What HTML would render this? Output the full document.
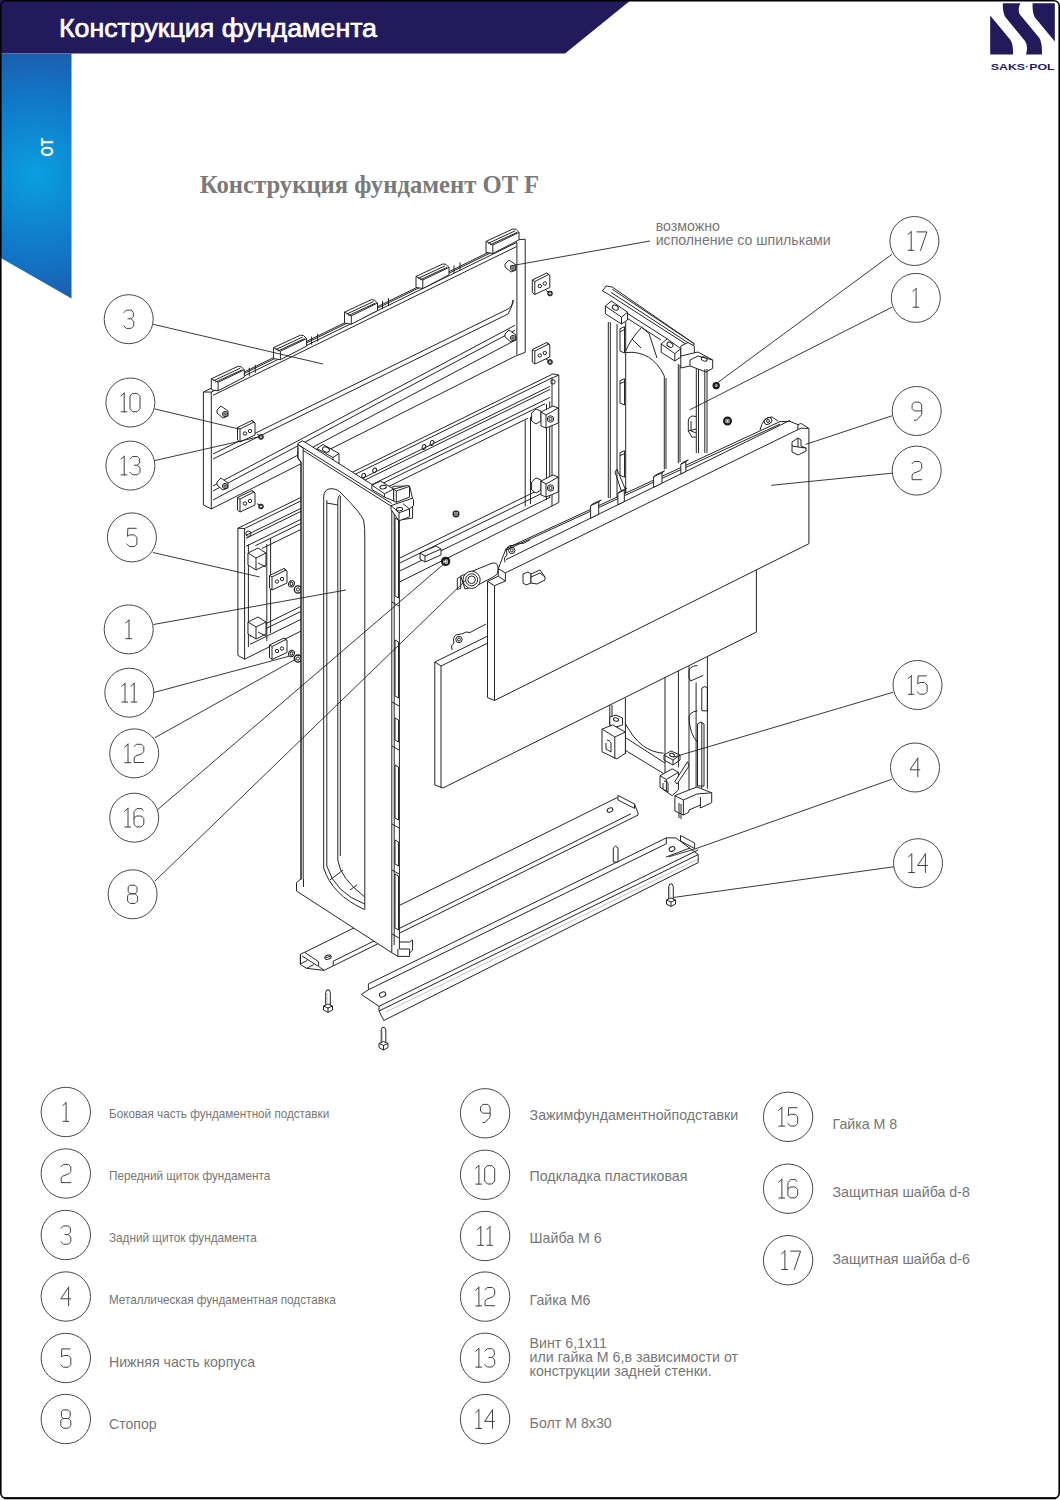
<!DOCTYPE html>
<html><head><meta charset="utf-8">
<style>
html,body{margin:0;padding:0;background:#fff;}
body{width:1060px;height:1500px;position:relative;overflow:hidden;}
svg{position:absolute;left:0;top:0;}
</style></head><body>
<svg width="1060" height="1500" viewBox="0 0 1060 1500">
<defs>
<radialGradient id="sb" cx="36" cy="175" r="150" gradientUnits="userSpaceOnUse" >
<stop offset="0" stop-color="#0a9fe0"/>
<stop offset="0.55" stop-color="#1275c6"/>
<stop offset="1" stop-color="#2350a0"/>
</radialGradient>
</defs>
<rect x="0" y="0" width="1060" height="1500" fill="#fff"/>
<polygon points="0,0 631,0 565,53.5 0,53.5" fill="#231a5c"/>
<polygon points="0,53.5 71.5,53.5 71.5,298.5 0,257.5" fill="url(#sb)"/>
<text x="59" y="37" font-family="Liberation Sans" font-size="25.4" fill="#fff" stroke="#fff" stroke-width="0.7" textLength="318" lengthAdjust="spacingAndGlyphs">Конструкция фундамента</text>
<text transform="translate(52.8,156.5) rotate(-90)" font-family="Liberation Sans" font-weight="bold" font-size="17.4" fill="#fff" textLength="18.5" lengthAdjust="spacingAndGlyphs">ОТ</text>
<g fill="#231a5c">
<path d="M990.2,15.6 L990.2,54.5 L1013,54.5 Q1013.5,45 1010.5,40 Z"/>
<path d="M1002.9,3.3 L1020.4,3.3 Q1017.5,8 1019.5,14 L1039.2,37.7 Q1042.2,42 1042,54.5 L1026,54.5 Q1028.5,46 1025,41 L1005.3,17 Q1002.5,12 1002.9,3.3 Z"/>
<path d="M1032.6,3.3 L1054.8,3.3 L1054.8,41.5 L1034.5,17 Q1032.2,12 1032.6,3.3 Z"/>
</g>
<text x="990.7" y="69.8" font-family="Liberation Sans" font-weight="bold" font-size="9.8" fill="#231a5c" textLength="64" lengthAdjust="spacingAndGlyphs">SAKS·POL</text>
<text x="199.8" y="193.2" font-family="Liberation Serif" font-weight="bold" font-size="24.7" fill="#7a7a7a" textLength="339.2" lengthAdjust="spacingAndGlyphs">Конструкция фундамент OT F</text>
<circle cx="65.8" cy="1112" r="24.7" fill="none" stroke="#484848" stroke-width="1"/><g transform="translate(65.8,1112) scale(1.0)" fill="none" stroke="#404040" stroke-width="1.0" stroke-linecap="round" stroke-linejoin="round"><path transform="translate(-3.10,-9.3)" d="M3.4,0 L3.4,18.6 M0.3,18.6 L6.1,18.6 M3.4,0 L0.2,2.8"/></g><circle cx="65.8" cy="1173.5" r="24.7" fill="none" stroke="#484848" stroke-width="1"/><g transform="translate(65.8,1173.5) scale(1.0)" fill="none" stroke="#404040" stroke-width="1.0" stroke-linecap="round" stroke-linejoin="round"><path transform="translate(-5.00,-9.3)" d="M0.4,2.4 L2.5,0.2 L7.7,0.2 L10,2.5 L10,7.3 L8.1,9.6 L1.9,11.9 L0.4,13.8 L0.4,18.4 L10,18.4"/></g><circle cx="65.8" cy="1235" r="24.7" fill="none" stroke="#484848" stroke-width="1"/><g transform="translate(65.8,1235) scale(1.0)" fill="none" stroke="#404040" stroke-width="1.0" stroke-linecap="round" stroke-linejoin="round"><path transform="translate(-5.00,-9.3)" d="M0.3,2.6 L2.6,0.2 L7.5,0.2 L9.6,2.4 L9.6,6.6 L7.4,8.9 L4.2,8.9 M7.4,8.9 L10,11.5 L10,16 L7.5,18.5 L2.6,18.5 L0.1,16"/></g><circle cx="65.8" cy="1296.5" r="24.7" fill="none" stroke="#484848" stroke-width="1"/><g transform="translate(65.8,1296.5) scale(1.0)" fill="none" stroke="#404040" stroke-width="1.0" stroke-linecap="round" stroke-linejoin="round"><path transform="translate(-5.00,-9.3)" d="M7.8,0 L0,11.6 L9.8,11.6 M7.8,0 L7.8,18.6"/></g><circle cx="65.8" cy="1358" r="24.7" fill="none" stroke="#484848" stroke-width="1"/><g transform="translate(65.8,1358) scale(1.0)" fill="none" stroke="#404040" stroke-width="1.0" stroke-linecap="round" stroke-linejoin="round"><path transform="translate(-5.00,-9.3)" d="M9.4,0.2 L1,0.2 L0.6,8.2 L2.8,6.8 L7.5,6.8 L10,9.3 L10,16 L7.5,18.5 L2.6,18.5 L0,16"/></g><circle cx="65.8" cy="1419" r="24.7" fill="none" stroke="#484848" stroke-width="1"/><g transform="translate(65.8,1419) scale(1.0)" fill="none" stroke="#404040" stroke-width="1.0" stroke-linecap="round" stroke-linejoin="round"><path transform="translate(-5.00,-9.3)" d="M2.7,0.2 L7.3,0.2 L9.4,2.3 L9.4,6.6 L7.6,8.8 L2.4,8.8 L0.6,6.6 L0.6,2.3 Z M2.4,8.8 L7.6,8.8 L10,11.2 L10,16 L7.5,18.5 L2.5,18.5 L0,16 L0,11.2 Z"/></g><circle cx="485.1" cy="1113.3" r="24.7" fill="none" stroke="#484848" stroke-width="1"/><g transform="translate(485.1,1113.3) scale(1.0)" fill="none" stroke="#404040" stroke-width="1.0" stroke-linecap="round" stroke-linejoin="round"><path transform="translate(-5.00,-9.3)" d="M10,9.2 L2.7,9.2 L0.4,6.9 L0.4,3.1 L2.7,0.4 L7.7,0.4 L10,3.1 L10,13 L5,18.4 L2.7,18.6"/></g><circle cx="485.1" cy="1174.8" r="24.7" fill="none" stroke="#484848" stroke-width="1"/><g transform="translate(485.1,1174.8) scale(1.0)" fill="none" stroke="#404040" stroke-width="1.0" stroke-linecap="round" stroke-linejoin="round"><path transform="translate(-9.60,-9.3)" d="M3.4,0 L3.4,18.6 M0.3,18.6 L6.1,18.6 M3.4,0 L0.2,2.8"/><path transform="translate(-0.40,-9.3)" d="M2.8,0.2 L7.2,0.2 L10,3.2 L10,15.6 L7.2,18.5 L2.8,18.5 L0,15.6 L0,3.2 Z"/></g><circle cx="485.1" cy="1236" r="24.7" fill="none" stroke="#484848" stroke-width="1"/><g transform="translate(485.1,1236) scale(1.0)" fill="none" stroke="#404040" stroke-width="1.0" stroke-linecap="round" stroke-linejoin="round"><path transform="translate(-7.70,-9.3)" d="M3.4,0 L3.4,18.6 M0.3,18.6 L6.1,18.6 M3.4,0 L0.2,2.8"/><path transform="translate(1.50,-9.3)" d="M3.4,0 L3.4,18.6 M0.3,18.6 L6.1,18.6 M3.4,0 L0.2,2.8"/></g><circle cx="485.1" cy="1296.6" r="24.7" fill="none" stroke="#484848" stroke-width="1"/><g transform="translate(485.1,1296.6) scale(1.0)" fill="none" stroke="#404040" stroke-width="1.0" stroke-linecap="round" stroke-linejoin="round"><path transform="translate(-9.60,-9.3)" d="M3.4,0 L3.4,18.6 M0.3,18.6 L6.1,18.6 M3.4,0 L0.2,2.8"/><path transform="translate(-0.40,-9.3)" d="M0.4,2.4 L2.5,0.2 L7.7,0.2 L10,2.5 L10,7.3 L8.1,9.6 L1.9,11.9 L0.4,13.8 L0.4,18.4 L10,18.4"/></g><circle cx="485.1" cy="1357.8" r="24.7" fill="none" stroke="#484848" stroke-width="1"/><g transform="translate(485.1,1357.8) scale(1.0)" fill="none" stroke="#404040" stroke-width="1.0" stroke-linecap="round" stroke-linejoin="round"><path transform="translate(-9.60,-9.3)" d="M3.4,0 L3.4,18.6 M0.3,18.6 L6.1,18.6 M3.4,0 L0.2,2.8"/><path transform="translate(-0.40,-9.3)" d="M0.3,2.6 L2.6,0.2 L7.5,0.2 L9.6,2.4 L9.6,6.6 L7.4,8.9 L4.2,8.9 M7.4,8.9 L10,11.5 L10,16 L7.5,18.5 L2.6,18.5 L0.1,16"/></g><circle cx="485.1" cy="1419.1" r="24.7" fill="none" stroke="#484848" stroke-width="1"/><g transform="translate(485.1,1419.1) scale(1.0)" fill="none" stroke="#404040" stroke-width="1.0" stroke-linecap="round" stroke-linejoin="round"><path transform="translate(-9.60,-9.3)" d="M3.4,0 L3.4,18.6 M0.3,18.6 L6.1,18.6 M3.4,0 L0.2,2.8"/><path transform="translate(-0.40,-9.3)" d="M7.8,0 L0,11.6 L9.8,11.6 M7.8,0 L7.8,18.6"/></g><circle cx="788.1" cy="1116.8" r="24.7" fill="none" stroke="#484848" stroke-width="1"/><g transform="translate(788.1,1116.8) scale(1.0)" fill="none" stroke="#404040" stroke-width="1.0" stroke-linecap="round" stroke-linejoin="round"><path transform="translate(-9.60,-9.3)" d="M3.4,0 L3.4,18.6 M0.3,18.6 L6.1,18.6 M3.4,0 L0.2,2.8"/><path transform="translate(-0.40,-9.3)" d="M9.4,0.2 L1,0.2 L0.6,8.2 L2.8,6.8 L7.5,6.8 L10,9.3 L10,16 L7.5,18.5 L2.6,18.5 L0,16"/></g><circle cx="788.1" cy="1188.7" r="24.7" fill="none" stroke="#484848" stroke-width="1"/><g transform="translate(788.1,1188.7) scale(1.0)" fill="none" stroke="#404040" stroke-width="1.0" stroke-linecap="round" stroke-linejoin="round"><path transform="translate(-9.60,-9.3)" d="M3.4,0 L3.4,18.6 M0.3,18.6 L6.1,18.6 M3.4,0 L0.2,2.8"/><path transform="translate(-0.40,-9.3)" d="M9.2,1.9 L7.9,0.2 L3,0.2 L0.2,3.2 L0.2,15.8 L2.7,18.5 L7.5,18.5 L10,15.8 L10,10.2 L7.5,7.6 L2.5,7.6 L0.2,10"/></g><circle cx="788.1" cy="1260.2" r="24.7" fill="none" stroke="#484848" stroke-width="1"/><g transform="translate(788.1,1260.2) scale(1.0)" fill="none" stroke="#404040" stroke-width="1.0" stroke-linecap="round" stroke-linejoin="round"><path transform="translate(-6.60,-9.3)" d="M3.4,0 L3.4,18.6 M0.3,18.6 L6.1,18.6 M3.4,0 L0.2,2.8"/><path transform="translate(2.60,-9.3)" d="M0,0.2 L9.9,0.2 L3.6,18.6"/></g>
<g font-family="Liberation Sans" fill="#767676"><text x="109" y="1118.1" font-size="13"  textLength="220.2" lengthAdjust="spacingAndGlyphs">Боковая часть фундаментной подставки</text><text x="109" y="1180" font-size="13"  textLength="161.3" lengthAdjust="spacingAndGlyphs">Передний щиток фундамента</text><text x="109" y="1242.4" font-size="13"  textLength="147.9" lengthAdjust="spacingAndGlyphs">Задний щиток фундамента</text><text x="109" y="1304.4" font-size="13"  textLength="226.8" lengthAdjust="spacingAndGlyphs">Металлическая фундаментная подставка</text><text x="109" y="1366.7" font-size="14.2"  textLength="146.2" lengthAdjust="spacingAndGlyphs">Нижняя часть корпуса</text><text x="109" y="1428.7" font-size="14.2"  textLength="47.6" lengthAdjust="spacingAndGlyphs">Стопор</text><text x="529.6" y="1119.5" font-size="14.2"  textLength="208.5" lengthAdjust="spacingAndGlyphs">Зажимфундаментнойподставки</text><text x="529.6" y="1181" font-size="14.2" >Подкладка пластиковая</text><text x="529.6" y="1243" font-size="14.2" >Шайба М 6</text><text x="529.6" y="1304.5" font-size="14.2" >Гайка М6</text><text x="529.6" y="1348.3" font-size="14.2" >Винт 6,1x11</text><text x="529.6" y="1362.4" font-size="14.2"  textLength="208.5" lengthAdjust="spacingAndGlyphs">или гайка М 6,в зависимости от</text><text x="529.6" y="1376.4" font-size="14.2" >конструкции задней стенки.</text><text x="529.6" y="1428.2" font-size="14.2" >Болт М 8x30</text><text x="832.5" y="1129" font-size="14.2" >Гайка М 8</text><text x="832.5" y="1197.2" font-size="14.2"  textLength="137.3" lengthAdjust="spacingAndGlyphs">Защитная шайба d-8</text><text x="832.5" y="1264.4" font-size="14.2"  textLength="137.3" lengthAdjust="spacingAndGlyphs">Защитная шайба d-6</text><text x="655.7" y="230.8" font-size="14.2" >возможно</text><text x="655.7" y="245.3" font-size="14.2"  textLength="175" lengthAdjust="spacingAndGlyphs">исполнение со шпильками</text></g>
<polygon points="203.4,392.0 513.4,240.1 525.2,239.2 525.2,352.4 515.8,355.9 211.3,508.9 203.4,505.0" fill="#fff" stroke="#1a1a1a" stroke-width="0.95" stroke-linejoin="round"/>
<polyline points="211.3,392.1 211.3,508.9" fill="none" stroke="#1a1a1a" stroke-width="0.95" stroke-linejoin="round"/>
<polyline points="203.4,392.0 211.3,392.1" fill="none" stroke="#1a1a1a" stroke-width="0.95" stroke-linejoin="round"/>
<polyline points="211.3,392.1 516.9,242.4" fill="none" stroke="#1a1a1a" stroke-width="0.95" stroke-linejoin="round"/>
<polyline points="213.0,395.3 516.9,246.4" fill="none" stroke="#1a1a1a" stroke-width="0.95" stroke-linejoin="round"/>
<polyline points="516.9,242.4 516.9,354.7" fill="none" stroke="#1a1a1a" stroke-width="0.95" stroke-linejoin="round"/>
<polyline points="513.4,240.1 516.9,242.4" fill="none" stroke="#1a1a1a" stroke-width="0.95" stroke-linejoin="round"/>
<polyline points="218.0,386.3 513.0,241.8" fill="none" stroke="#1a1a1a" stroke-width="0.95" stroke-linejoin="round"/>
<path d="M213,454 L508,309 Q514,305 513,300 Q512,308 508,314 L213,459" fill="none" stroke="#1a1a1a" stroke-width="0.95"/>
<polyline points="213.0,486.0 515.0,325.3" fill="none" stroke="#1a1a1a" stroke-width="0.95" stroke-linejoin="round"/>
<polyline points="213.0,491.0 515.0,330.3" fill="none" stroke="#1a1a1a" stroke-width="0.95" stroke-linejoin="round"/>
<polyline points="213.0,500.0 515.8,339.9" fill="none" stroke="#1a1a1a" stroke-width="0.95" stroke-linejoin="round"/>
<polygon points="211.3,378.8 238.3,366.2 241.3,366.8 244.3,369.8 244.3,377.2 218.1,390.8 211.3,389.8" fill="#fff" stroke="#1a1a1a" stroke-width="0.95" stroke-linejoin="round"/>
<polyline points="211.3,378.8 218.1,382.3 218.1,390.8" fill="none" stroke="#1a1a1a" stroke-width="0.95" stroke-linejoin="round"/>
<polyline points="218.1,382.3 244.3,369.8" fill="none" stroke="#1a1a1a" stroke-width="0.95" stroke-linejoin="round"/>
<polyline points="213.3,380.8 240.3,368.2" fill="none" stroke="#1a1a1a" stroke-width="0.95" stroke-linejoin="round"/>
<polyline points="215.3,382.2 242.3,369.8" fill="none" stroke="#1a1a1a" stroke-width="0.95" stroke-linejoin="round"/>
<polyline points="249.3,367.8 249.3,375.8" fill="none" stroke="#1a1a1a" stroke-width="0.95" stroke-linejoin="round"/>
<polyline points="255.3,364.8 255.3,372.8" fill="none" stroke="#1a1a1a" stroke-width="0.95" stroke-linejoin="round"/>
<polygon points="273.6,347.6 300.6,335.1 303.6,335.6 306.6,338.6 306.6,346.1 280.4,359.7 273.6,358.6" fill="#fff" stroke="#1a1a1a" stroke-width="0.95" stroke-linejoin="round"/>
<polyline points="273.6,347.6 280.4,351.2 280.4,359.7" fill="none" stroke="#1a1a1a" stroke-width="0.95" stroke-linejoin="round"/>
<polyline points="280.4,351.2 306.6,338.6" fill="none" stroke="#1a1a1a" stroke-width="0.95" stroke-linejoin="round"/>
<polyline points="275.6,349.6 302.6,337.1" fill="none" stroke="#1a1a1a" stroke-width="0.95" stroke-linejoin="round"/>
<polyline points="277.6,351.1 304.6,338.6" fill="none" stroke="#1a1a1a" stroke-width="0.95" stroke-linejoin="round"/>
<polyline points="311.6,336.6 311.6,344.6" fill="none" stroke="#1a1a1a" stroke-width="0.95" stroke-linejoin="round"/>
<polyline points="317.6,333.6 317.6,341.6" fill="none" stroke="#1a1a1a" stroke-width="0.95" stroke-linejoin="round"/>
<polygon points="344.5,312.1 371.5,299.6 374.5,300.1 377.5,303.1 377.5,310.6 351.3,324.2 344.5,323.1" fill="#fff" stroke="#1a1a1a" stroke-width="0.95" stroke-linejoin="round"/>
<polyline points="344.5,312.1 351.3,315.8 351.3,324.2" fill="none" stroke="#1a1a1a" stroke-width="0.95" stroke-linejoin="round"/>
<polyline points="351.3,315.8 377.5,303.1" fill="none" stroke="#1a1a1a" stroke-width="0.95" stroke-linejoin="round"/>
<polyline points="346.5,314.1 373.5,301.6" fill="none" stroke="#1a1a1a" stroke-width="0.95" stroke-linejoin="round"/>
<polyline points="348.5,315.6 375.5,303.1" fill="none" stroke="#1a1a1a" stroke-width="0.95" stroke-linejoin="round"/>
<polyline points="382.5,301.1 382.5,309.1" fill="none" stroke="#1a1a1a" stroke-width="0.95" stroke-linejoin="round"/>
<polyline points="388.5,298.1 388.5,306.1" fill="none" stroke="#1a1a1a" stroke-width="0.95" stroke-linejoin="round"/>
<polygon points="416.0,276.4 443.0,263.9 446.0,264.4 449.0,267.4 449.0,274.9 422.8,288.5 416.0,287.4" fill="#fff" stroke="#1a1a1a" stroke-width="0.95" stroke-linejoin="round"/>
<polyline points="416.0,276.4 422.8,280.0 422.8,288.5" fill="none" stroke="#1a1a1a" stroke-width="0.95" stroke-linejoin="round"/>
<polyline points="422.8,280.0 449.0,267.4" fill="none" stroke="#1a1a1a" stroke-width="0.95" stroke-linejoin="round"/>
<polyline points="418.0,278.4 445.0,265.9" fill="none" stroke="#1a1a1a" stroke-width="0.95" stroke-linejoin="round"/>
<polyline points="420.0,279.9 447.0,267.4" fill="none" stroke="#1a1a1a" stroke-width="0.95" stroke-linejoin="round"/>
<polyline points="454.0,265.4 454.0,273.4" fill="none" stroke="#1a1a1a" stroke-width="0.95" stroke-linejoin="round"/>
<polyline points="460.0,262.4 460.0,270.4" fill="none" stroke="#1a1a1a" stroke-width="0.95" stroke-linejoin="round"/>
<polygon points="486.0,241.4 513.0,228.9 516.0,229.4 519.0,232.4 519.0,239.9 492.8,253.5 486.0,252.4" fill="#fff" stroke="#1a1a1a" stroke-width="0.95" stroke-linejoin="round"/>
<polyline points="486.0,241.4 492.8,245.0 492.8,253.5" fill="none" stroke="#1a1a1a" stroke-width="0.95" stroke-linejoin="round"/>
<polyline points="492.8,245.0 519.0,232.4" fill="none" stroke="#1a1a1a" stroke-width="0.95" stroke-linejoin="round"/>
<polyline points="488.0,243.4 515.0,230.9" fill="none" stroke="#1a1a1a" stroke-width="0.95" stroke-linejoin="round"/>
<polyline points="490.0,244.9 517.0,232.4" fill="none" stroke="#1a1a1a" stroke-width="0.95" stroke-linejoin="round"/>
<polygon points="217.0,410.0 221.0,406.0 228.0,411.0 228.0,416.0 223.0,418.0 217.0,413.0" fill="#fff" stroke="#1a1a1a" stroke-width="0.95" stroke-linejoin="round"/>
<circle cx="225" cy="414" r="2.6" fill="none" stroke="#1a1a1a" stroke-width="0.95"/>
<circle cx="225" cy="414" r="1.2" fill="none" stroke="#1a1a1a" stroke-width="0.95"/>
<polygon points="217.0,482.0 221.0,478.0 228.0,483.0 228.0,488.0 223.0,490.0 217.0,485.0" fill="#fff" stroke="#1a1a1a" stroke-width="0.95" stroke-linejoin="round"/>
<circle cx="225" cy="486" r="2.6" fill="none" stroke="#1a1a1a" stroke-width="0.95"/>
<circle cx="225" cy="486" r="1.2" fill="none" stroke="#1a1a1a" stroke-width="0.95"/>
<polygon points="505.0,264.0 509.0,260.0 516.0,265.0 516.0,270.0 511.0,272.0 505.0,267.0" fill="#fff" stroke="#1a1a1a" stroke-width="0.95" stroke-linejoin="round"/>
<circle cx="513" cy="268" r="2.6" fill="none" stroke="#1a1a1a" stroke-width="0.95"/>
<circle cx="513" cy="268" r="1.2" fill="none" stroke="#1a1a1a" stroke-width="0.95"/>
<polygon points="505.0,334.0 509.0,330.0 516.0,335.0 516.0,340.0 511.0,342.0 505.0,337.0" fill="#fff" stroke="#1a1a1a" stroke-width="0.95" stroke-linejoin="round"/>
<circle cx="513" cy="338" r="2.6" fill="none" stroke="#1a1a1a" stroke-width="0.95"/>
<circle cx="513" cy="338" r="1.2" fill="none" stroke="#1a1a1a" stroke-width="0.95"/>
<polygon points="237.9,528.3 553.0,373.9 558.8,375.1 558.8,502.5 552.0,506.0 244.6,659.2 237.9,655.4" fill="#fff" stroke="#1a1a1a" stroke-width="0.95" stroke-linejoin="round"/>
<polyline points="244.6,528.5 244.6,659.2" fill="none" stroke="#1a1a1a" stroke-width="0.95" stroke-linejoin="round"/>
<polyline points="237.9,528.3 244.6,528.5 552.0,377.9 558.8,375.1" fill="none" stroke="#1a1a1a" stroke-width="0.95" stroke-linejoin="round"/>
<polyline points="552.0,377.9 552.0,506.0" fill="none" stroke="#1a1a1a" stroke-width="0.95" stroke-linejoin="round"/>
<polyline points="246.0,535.3 550.0,386.4" fill="none" stroke="#1a1a1a" stroke-width="0.95" stroke-linejoin="round"/>
<polyline points="246.0,538.3 550.0,389.4" fill="none" stroke="#1a1a1a" stroke-width="0.95" stroke-linejoin="round"/>
<polyline points="246.0,546.3 550.0,397.4" fill="none" stroke="#1a1a1a" stroke-width="0.95" stroke-linejoin="round"/>
<polyline points="255.4,545.7 545.0,403.8" fill="none" stroke="#1a1a1a" stroke-width="0.95" stroke-linejoin="round"/>
<polyline points="262.0,548.5 528.0,418.2" fill="none" stroke="#1a1a1a" stroke-width="0.95" stroke-linejoin="round"/>
<polyline points="248.4,544.2 248.4,647.0" fill="none" stroke="#1a1a1a" stroke-width="0.95" stroke-linejoin="round"/>
<polyline points="266.8,544.1 266.8,641.0" fill="none" stroke="#1a1a1a" stroke-width="0.95" stroke-linejoin="round"/>
<polyline points="270.6,538.3 270.6,633.0" fill="none" stroke="#1a1a1a" stroke-width="0.95" stroke-linejoin="round"/>
<polyline points="525.2,420.5 525.2,506.5" fill="none" stroke="#1a1a1a" stroke-width="0.95" stroke-linejoin="round"/>
<polyline points="530.5,416.9 530.5,504.0" fill="none" stroke="#1a1a1a" stroke-width="0.95" stroke-linejoin="round"/>
<polyline points="546.5,404.1 546.5,500.0" fill="none" stroke="#1a1a1a" stroke-width="0.95" stroke-linejoin="round"/>
<polyline points="549.7,401.5 549.7,498.0" fill="none" stroke="#1a1a1a" stroke-width="0.95" stroke-linejoin="round"/>
<polyline points="250.0,631.4 550.0,484.4" fill="none" stroke="#1a1a1a" stroke-width="0.95" stroke-linejoin="round"/>
<polyline points="250.0,636.4 550.0,489.4" fill="none" stroke="#1a1a1a" stroke-width="0.95" stroke-linejoin="round"/>
<polyline points="250.0,644.4 550.0,497.4" fill="none" stroke="#1a1a1a" stroke-width="0.95" stroke-linejoin="round"/>
<polygon points="248.0,553.0 258.0,548.0 266.0,553.0 266.0,565.0 256.0,570.0 248.0,565.0" fill="#fff" stroke="#1a1a1a" stroke-width="0.95" stroke-linejoin="round"/>
<polyline points="256.0,558.0 266.0,553.0" fill="none" stroke="#1a1a1a" stroke-width="0.95" stroke-linejoin="round"/>
<polyline points="256.0,558.0 256.0,570.0" fill="none" stroke="#1a1a1a" stroke-width="0.95" stroke-linejoin="round"/>
<polyline points="248.0,553.0 256.0,558.0" fill="none" stroke="#1a1a1a" stroke-width="0.95" stroke-linejoin="round"/>
<polyline points="258.0,563.0 266.0,567.0" fill="none" stroke="#1a1a1a" stroke-width="0.95" stroke-linejoin="round"/>
<polygon points="248.0,622.0 258.0,617.0 266.0,622.0 266.0,634.0 256.0,639.0 248.0,634.0" fill="#fff" stroke="#1a1a1a" stroke-width="0.95" stroke-linejoin="round"/>
<polyline points="256.0,627.0 266.0,622.0" fill="none" stroke="#1a1a1a" stroke-width="0.95" stroke-linejoin="round"/>
<polyline points="256.0,627.0 256.0,639.0" fill="none" stroke="#1a1a1a" stroke-width="0.95" stroke-linejoin="round"/>
<polyline points="248.0,622.0 256.0,627.0" fill="none" stroke="#1a1a1a" stroke-width="0.95" stroke-linejoin="round"/>
<polyline points="258.0,632.0 266.0,636.0" fill="none" stroke="#1a1a1a" stroke-width="0.95" stroke-linejoin="round"/>
<polygon points="531.6,413.0 536.0,409.0 541.0,411.0 541.0,421.0 536.0,424.0 531.6,421.0" fill="#fff" stroke="#1a1a1a" stroke-width="0.95" stroke-linejoin="round"/>
<polygon points="541.0,412.0 553.0,406.0 558.3,408.0 558.3,423.0 546.0,428.0 541.0,426.0" fill="#fff" stroke="#1a1a1a" stroke-width="0.95" stroke-linejoin="round"/>
<polyline points="541.0,412.0 546.0,415.0 558.3,408.0" fill="none" stroke="#1a1a1a" stroke-width="0.95" stroke-linejoin="round"/>
<polyline points="546.0,415.0 546.0,428.0" fill="none" stroke="#1a1a1a" stroke-width="0.95" stroke-linejoin="round"/>
<circle cx="550.5" cy="419" r="3.2" fill="none" stroke="#1a1a1a" stroke-width="0.95"/>
<circle cx="550.5" cy="419" r="1.6" fill="none" stroke="#1a1a1a" stroke-width="0.95"/>
<polygon points="531.6,482.0 536.0,478.0 541.0,480.0 541.0,490.0 536.0,493.0 531.6,490.0" fill="#fff" stroke="#1a1a1a" stroke-width="0.95" stroke-linejoin="round"/>
<polygon points="541.0,481.0 553.0,475.0 558.3,477.0 558.3,492.0 546.0,497.0 541.0,495.0" fill="#fff" stroke="#1a1a1a" stroke-width="0.95" stroke-linejoin="round"/>
<polyline points="541.0,481.0 546.0,484.0 558.3,477.0" fill="none" stroke="#1a1a1a" stroke-width="0.95" stroke-linejoin="round"/>
<polyline points="546.0,484.0 546.0,497.0" fill="none" stroke="#1a1a1a" stroke-width="0.95" stroke-linejoin="round"/>
<circle cx="550.5" cy="488" r="3.2" fill="none" stroke="#1a1a1a" stroke-width="0.95"/>
<circle cx="550.5" cy="488" r="1.6" fill="none" stroke="#1a1a1a" stroke-width="0.95"/>
<circle cx="553" cy="381.9" r="2.2" fill="none" stroke="#1a1a1a" stroke-width="0.95"/>
<circle cx="248.4" cy="533.7" r="2.6" fill="none" stroke="#1a1a1a" stroke-width="0.95"/>
<ellipse cx="424" cy="447" rx="1.8" ry="2.4" transform="rotate(20 424 447)" fill="none" stroke="#1a1a1a" stroke-width="0.95"/>
<ellipse cx="432" cy="443" rx="1.8" ry="2.4" transform="rotate(20 432 443)" fill="none" stroke="#1a1a1a" stroke-width="0.95"/>
<ellipse cx="363.6" cy="475.8" rx="1.8" ry="2.4" transform="rotate(20 363.6 475.8)" fill="none" stroke="#1a1a1a" stroke-width="0.95"/>
<ellipse cx="374.6" cy="470.3" rx="1.8" ry="2.4" transform="rotate(20 374.6 470.3)" fill="none" stroke="#1a1a1a" stroke-width="0.95"/>
<ellipse cx="352" cy="481" rx="1.8" ry="2.4" transform="rotate(20 352 481)" fill="none" stroke="#1a1a1a" stroke-width="0.95"/>
<circle cx="456" cy="514" r="2.8" fill="none" stroke="#1a1a1a" stroke-width="1.3"/>
<circle cx="456" cy="514" r="1.2" fill="none" stroke="#1a1a1a" stroke-width="0.95"/>
<polygon points="317.0,448.5 323.0,444.5 339.0,453.5 339.0,464.5 333.0,468.5 317.0,459.5" fill="#fff" stroke="#1a1a1a" stroke-width="0.95" stroke-linejoin="round"/>
<polyline points="317.0,448.5 333.0,457.5 339.0,453.5" fill="none" stroke="#1a1a1a" stroke-width="0.95" stroke-linejoin="round"/>
<polyline points="333.0,457.5 333.0,468.5" fill="none" stroke="#1a1a1a" stroke-width="0.95" stroke-linejoin="round"/>
<ellipse cx="326" cy="449.5" rx="3.5" ry="2.5" transform="rotate(25 326 449.5)" fill="none" stroke="#1a1a1a" stroke-width="0.95"/>
<polygon points="373.4,485.3 379.4,481.3 395.4,490.3 395.4,501.3 389.4,505.3 373.4,496.3" fill="#fff" stroke="#1a1a1a" stroke-width="0.95" stroke-linejoin="round"/>
<polyline points="373.4,485.3 389.4,494.3 395.4,490.3" fill="none" stroke="#1a1a1a" stroke-width="0.95" stroke-linejoin="round"/>
<polyline points="389.4,494.3 389.4,505.3" fill="none" stroke="#1a1a1a" stroke-width="0.95" stroke-linejoin="round"/>
<ellipse cx="382.4" cy="486.3" rx="3.5" ry="2.5" transform="rotate(25 382.4 486.3)" fill="none" stroke="#1a1a1a" stroke-width="0.95"/>
<polygon points="420.0,553.0 436.0,546.0 441.0,549.0 441.0,555.0 425.0,562.0 420.0,559.0" fill="#fff" stroke="#1a1a1a" stroke-width="0.95" stroke-linejoin="round"/>
<polyline points="420.0,553.0 425.0,556.0 441.0,549.0" fill="none" stroke="#1a1a1a" stroke-width="0.95" stroke-linejoin="round"/>
<polyline points="425.0,556.0 425.0,562.0" fill="none" stroke="#1a1a1a" stroke-width="0.95" stroke-linejoin="round"/>
<polygon points="532.3,280.0 546.8,273.0 549.8,275.5 549.8,287.5 534.8,294.5 532.3,292.5" fill="#fff" stroke="#1a1a1a" stroke-width="0.95" stroke-linejoin="round"/>
<polyline points="532.3,280.0 534.8,281.5 534.8,294.5" fill="none" stroke="#1a1a1a" stroke-width="0.95" stroke-linejoin="round"/>
<polyline points="534.8,281.5 548.8,274.5 549.8,275.5" fill="none" stroke="#1a1a1a" stroke-width="0.95" stroke-linejoin="round"/>
<polyline points="548.8,274.5 546.8,273.0" fill="none" stroke="#1a1a1a" stroke-width="0.95" stroke-linejoin="round"/>
<circle cx="539.8" cy="286.0" r="1.7" fill="none" stroke="#1a1a1a" stroke-width="0.95"/>
<circle cx="544.8" cy="283.5" r="1.7" fill="none" stroke="#1a1a1a" stroke-width="0.95"/>
<polygon points="532.3,349.5 546.8,342.5 549.8,345.0 549.8,357.0 534.8,364.0 532.3,362.0" fill="#fff" stroke="#1a1a1a" stroke-width="0.95" stroke-linejoin="round"/>
<polyline points="532.3,349.5 534.8,351.0 534.8,364.0" fill="none" stroke="#1a1a1a" stroke-width="0.95" stroke-linejoin="round"/>
<polyline points="534.8,351.0 548.8,344.0 549.8,345.0" fill="none" stroke="#1a1a1a" stroke-width="0.95" stroke-linejoin="round"/>
<polyline points="548.8,344.0 546.8,342.5" fill="none" stroke="#1a1a1a" stroke-width="0.95" stroke-linejoin="round"/>
<circle cx="539.8" cy="355.5" r="1.7" fill="none" stroke="#1a1a1a" stroke-width="0.95"/>
<circle cx="544.8" cy="353" r="1.7" fill="none" stroke="#1a1a1a" stroke-width="0.95"/>
<polygon points="237.5,427.5 252.0,420.5 255.0,423.0 255.0,435.0 240.0,442.0 237.5,440.0" fill="#fff" stroke="#1a1a1a" stroke-width="0.95" stroke-linejoin="round"/>
<polyline points="237.5,427.5 240.0,429.0 240.0,442.0" fill="none" stroke="#1a1a1a" stroke-width="0.95" stroke-linejoin="round"/>
<polyline points="240.0,429.0 254.0,422.0 255.0,423.0" fill="none" stroke="#1a1a1a" stroke-width="0.95" stroke-linejoin="round"/>
<polyline points="254.0,422.0 252.0,420.5" fill="none" stroke="#1a1a1a" stroke-width="0.95" stroke-linejoin="round"/>
<circle cx="245.0" cy="433.5" r="1.7" fill="none" stroke="#1a1a1a" stroke-width="0.95"/>
<circle cx="250.0" cy="431" r="1.7" fill="none" stroke="#1a1a1a" stroke-width="0.95"/>
<polygon points="237.5,497.5 252.0,490.5 255.0,493.0 255.0,505.0 240.0,512.0 237.5,510.0" fill="#fff" stroke="#1a1a1a" stroke-width="0.95" stroke-linejoin="round"/>
<polyline points="237.5,497.5 240.0,499.0 240.0,512.0" fill="none" stroke="#1a1a1a" stroke-width="0.95" stroke-linejoin="round"/>
<polyline points="240.0,499.0 254.0,492.0 255.0,493.0" fill="none" stroke="#1a1a1a" stroke-width="0.95" stroke-linejoin="round"/>
<polyline points="254.0,492.0 252.0,490.5" fill="none" stroke="#1a1a1a" stroke-width="0.95" stroke-linejoin="round"/>
<circle cx="245.0" cy="503.5" r="1.7" fill="none" stroke="#1a1a1a" stroke-width="0.95"/>
<circle cx="250.0" cy="501" r="1.7" fill="none" stroke="#1a1a1a" stroke-width="0.95"/>
<polygon points="269.5,575.5 284.0,568.5 287.0,571.0 287.0,583.0 272.0,590.0 269.5,588.0" fill="#fff" stroke="#1a1a1a" stroke-width="0.95" stroke-linejoin="round"/>
<polyline points="269.5,575.5 272.0,577.0 272.0,590.0" fill="none" stroke="#1a1a1a" stroke-width="0.95" stroke-linejoin="round"/>
<polyline points="272.0,577.0 286.0,570.0 287.0,571.0" fill="none" stroke="#1a1a1a" stroke-width="0.95" stroke-linejoin="round"/>
<polyline points="286.0,570.0 284.0,568.5" fill="none" stroke="#1a1a1a" stroke-width="0.95" stroke-linejoin="round"/>
<circle cx="277.0" cy="581.5" r="1.7" fill="none" stroke="#1a1a1a" stroke-width="0.95"/>
<circle cx="282.0" cy="579" r="1.7" fill="none" stroke="#1a1a1a" stroke-width="0.95"/>
<polygon points="269.5,645.0 284.0,638.0 287.0,640.5 287.0,652.5 272.0,659.5 269.5,657.5" fill="#fff" stroke="#1a1a1a" stroke-width="0.95" stroke-linejoin="round"/>
<polyline points="269.5,645.0 272.0,646.5 272.0,659.5" fill="none" stroke="#1a1a1a" stroke-width="0.95" stroke-linejoin="round"/>
<polyline points="272.0,646.5 286.0,639.5 287.0,640.5" fill="none" stroke="#1a1a1a" stroke-width="0.95" stroke-linejoin="round"/>
<polyline points="286.0,639.5 284.0,638.0" fill="none" stroke="#1a1a1a" stroke-width="0.95" stroke-linejoin="round"/>
<circle cx="277.0" cy="651.0" r="1.7" fill="none" stroke="#1a1a1a" stroke-width="0.95"/>
<circle cx="282.0" cy="648.5" r="1.7" fill="none" stroke="#1a1a1a" stroke-width="0.95"/>
<circle cx="550" cy="293.5" r="2.4" fill="#555" stroke="#1a1a1a" stroke-width="0.95"/>
<circle cx="550" cy="293.5" r="1.2" fill="#fff" stroke="#1a1a1a" stroke-width="0.5"/>
<polyline points="546.0,290.5 549.0,292.5" fill="none" stroke="#1a1a1a" stroke-width="0.95" stroke-linejoin="round"/>
<circle cx="550" cy="362" r="2.4" fill="#555" stroke="#1a1a1a" stroke-width="0.95"/>
<circle cx="550" cy="362" r="1.2" fill="#fff" stroke="#1a1a1a" stroke-width="0.5"/>
<polyline points="546.0,359.0 549.0,361.0" fill="none" stroke="#1a1a1a" stroke-width="0.95" stroke-linejoin="round"/>
<circle cx="261" cy="437" r="2.4" fill="#555" stroke="#1a1a1a" stroke-width="0.95"/>
<circle cx="261" cy="437" r="1.2" fill="#fff" stroke="#1a1a1a" stroke-width="0.5"/>
<polyline points="257.0,434.0 260.0,436.0" fill="none" stroke="#1a1a1a" stroke-width="0.95" stroke-linejoin="round"/>
<circle cx="261" cy="506.5" r="2.4" fill="#555" stroke="#1a1a1a" stroke-width="0.95"/>
<circle cx="261" cy="506.5" r="1.2" fill="#fff" stroke="#1a1a1a" stroke-width="0.5"/>
<polyline points="257.0,503.5 260.0,505.5" fill="none" stroke="#1a1a1a" stroke-width="0.95" stroke-linejoin="round"/>
<ellipse cx="291.5" cy="583.8" rx="2.8" ry="3.3" transform="rotate(30 291.5 583.8)" fill="none" stroke="#1a1a1a" stroke-width="0.95"/>
<ellipse cx="291.5" cy="583.8" rx="1.4" ry="1.7" transform="rotate(30 291.5 583.8)" fill="none" stroke="#1a1a1a" stroke-width="0.95"/>
<ellipse cx="291.5" cy="653.5" rx="2.8" ry="3.3" transform="rotate(30 291.5 653.5)" fill="none" stroke="#1a1a1a" stroke-width="0.95"/>
<ellipse cx="291.5" cy="653.5" rx="1.4" ry="1.7" transform="rotate(30 291.5 653.5)" fill="none" stroke="#1a1a1a" stroke-width="0.95"/>
<circle cx="297.9" cy="589.5" r="3.6" fill="none" stroke="#1a1a1a" stroke-width="1.3"/>
<circle cx="297.9" cy="589.5" r="1.6" fill="none" stroke="#1a1a1a" stroke-width="0.95"/>
<circle cx="297.9" cy="658.6" r="3.6" fill="none" stroke="#1a1a1a" stroke-width="1.3"/>
<circle cx="297.9" cy="658.6" r="1.6" fill="none" stroke="#1a1a1a" stroke-width="0.95"/>
<polygon points="602.4,291.0 606.0,286.0 612.2,287.0 694.3,343.8 692.0,348.0 608.0,294.0" fill="#fff" stroke="#1a1a1a" stroke-width="0.95" stroke-linejoin="round"/>
<polyline points="612.2,289.2 694.3,343.8" fill="none" stroke="#1a1a1a" stroke-width="0.95" stroke-linejoin="round"/>
<polyline points="611.0,292.3 690.0,344.0" fill="none" stroke="#1a1a1a" stroke-width="0.95" stroke-linejoin="round"/>
<polyline points="626.9,313.1 667.4,338.9" fill="none" stroke="#1a1a1a" stroke-width="0.95" stroke-linejoin="round"/>
<polyline points="626.9,318.0 661.0,340.0" fill="none" stroke="#1a1a1a" stroke-width="0.95" stroke-linejoin="round"/>
<polygon points="605.4,306.0 611.4,301.0 627.5,312.2 627.5,320.0 621.5,324.0 605.4,313.8" fill="#fff" stroke="#1a1a1a" stroke-width="0.95" stroke-linejoin="round"/>
<polyline points="605.4,306.0 621.5,317.2 627.5,312.2" fill="none" stroke="#1a1a1a" stroke-width="0.95" stroke-linejoin="round"/>
<polyline points="621.5,317.2 621.5,324.0" fill="none" stroke="#1a1a1a" stroke-width="0.95" stroke-linejoin="round"/>
<ellipse cx="615.345" cy="307.63" rx="3.2" ry="2.3" transform="rotate(30 615.345 307.63)" fill="none" stroke="#1a1a1a" stroke-width="0.95"/>
<polygon points="661.2,343.9 667.2,338.9 680.8,348.7 680.8,357.0 674.8,361.0 661.2,352.2" fill="#fff" stroke="#1a1a1a" stroke-width="0.95" stroke-linejoin="round"/>
<polyline points="661.2,343.9 674.8,353.7 680.8,348.7" fill="none" stroke="#1a1a1a" stroke-width="0.95" stroke-linejoin="round"/>
<polyline points="674.8,353.7 674.8,361.0" fill="none" stroke="#1a1a1a" stroke-width="0.95" stroke-linejoin="round"/>
<ellipse cx="670.02" cy="344.78" rx="3.2" ry="2.3" transform="rotate(30 670.02 344.78)" fill="none" stroke="#1a1a1a" stroke-width="0.95"/>
<polygon points="680.8,346.0 688.0,342.5 694.3,346.0 694.3,356.0 688.0,360.0 680.8,356.0" fill="#fff" stroke="#1a1a1a" stroke-width="0.95" stroke-linejoin="round"/>
<polygon points="680.8,356.0 698.0,352.0 712.7,360.0 712.7,368.3 706.0,372.0 690.0,366.0 680.8,368.0" fill="#fff" stroke="#1a1a1a" stroke-width="0.95" stroke-linejoin="round"/>
<polyline points="690.0,366.0 690.0,360.0 698.0,356.0 712.7,360.0" fill="none" stroke="#1a1a1a" stroke-width="0.95" stroke-linejoin="round"/>
<ellipse cx="704.2" cy="359" rx="3" ry="2" transform="rotate(20 704.2 359)" fill="none" stroke="#1a1a1a" stroke-width="0.95"/>
<polyline points="608.3,322.0 608.3,498.0" fill="none" stroke="#1a1a1a" stroke-width="0.95" stroke-linejoin="round"/>
<polyline points="610.3,322.0 610.3,498.0" fill="none" stroke="#1a1a1a" stroke-width="0.95" stroke-linejoin="round"/>
<polyline points="617.0,324.0 617.0,498.0" fill="none" stroke="#1a1a1a" stroke-width="0.95" stroke-linejoin="round"/>
<polyline points="625.7,322.0 625.7,493.0" fill="none" stroke="#1a1a1a" stroke-width="0.95" stroke-linejoin="round"/>
<polyline points="664.3,376.0 664.3,469.3" fill="none" stroke="#1a1a1a" stroke-width="0.95" stroke-linejoin="round"/>
<polyline points="666.0,378.0 666.0,469.0" fill="none" stroke="#1a1a1a" stroke-width="0.95" stroke-linejoin="round"/>
<polyline points="678.3,364.0 678.3,463.0" fill="none" stroke="#1a1a1a" stroke-width="0.95" stroke-linejoin="round"/>
<polyline points="680.0,365.0 680.0,462.0" fill="none" stroke="#1a1a1a" stroke-width="0.95" stroke-linejoin="round"/>
<polyline points="696.3,369.0 696.3,453.0" fill="none" stroke="#1a1a1a" stroke-width="0.95" stroke-linejoin="round"/>
<polyline points="698.5,369.0 698.5,453.0" fill="none" stroke="#1a1a1a" stroke-width="0.95" stroke-linejoin="round"/>
<polyline points="704.8,369.0 704.8,453.0" fill="none" stroke="#1a1a1a" stroke-width="0.95" stroke-linejoin="round"/>
<polyline points="707.0,369.0 707.0,453.0" fill="none" stroke="#1a1a1a" stroke-width="0.95" stroke-linejoin="round"/>
<path d="M625.7,351 Q630,340 641,328" fill="none" stroke="#1a1a1a" stroke-width="0.95"/>
<path d="M625.7,352.5 Q652,350 664.3,376" fill="none" stroke="#1a1a1a" stroke-width="0.95"/>
<polyline points="641.5,327.0 649.0,333.5" fill="none" stroke="#1a1a1a" stroke-width="0.95" stroke-linejoin="round"/>
<polyline points="649.0,333.5 657.0,358.0" fill="none" stroke="#1a1a1a" stroke-width="0.95" stroke-linejoin="round"/>
<polyline points="632.0,339.0 641.0,348.0" fill="none" stroke="#1a1a1a" stroke-width="0.95" stroke-linejoin="round"/>
<polygon points="620.0,328.7 624.5,326.7 624.5,353.0 620.0,351.0" fill="none" stroke="#1a1a1a" stroke-width="0.95" stroke-linejoin="round"/>
<polyline points="620.0,331.7 624.5,329.7" fill="none" stroke="#1a1a1a" stroke-width="0.95" stroke-linejoin="round"/>
<polygon points="620.0,380.7 624.5,378.7 624.5,405.0 620.0,403.0" fill="none" stroke="#1a1a1a" stroke-width="0.95" stroke-linejoin="round"/>
<polyline points="620.0,383.7 624.5,381.7" fill="none" stroke="#1a1a1a" stroke-width="0.95" stroke-linejoin="round"/>
<polygon points="620.0,452.7 624.5,450.7 624.5,477.3 620.0,475.3" fill="none" stroke="#1a1a1a" stroke-width="0.95" stroke-linejoin="round"/>
<polyline points="620.0,455.7 624.5,453.7" fill="none" stroke="#1a1a1a" stroke-width="0.95" stroke-linejoin="round"/>
<polygon points="615.0,472.0 617.0,469.3 625.7,490.0 625.7,493.3 622.0,493.0" fill="none" stroke="#1a1a1a" stroke-width="0.95" stroke-linejoin="round"/>
<path d="M696.3,416.5 L692,416 Q688.3,417 688.3,421 L688.3,431 L692,437.3 L696.3,437" fill="none" stroke="#1a1a1a" stroke-width="0.95"/>
<polyline points="691.0,421.0 691.0,431.0 696.3,433.0" fill="none" stroke="#1a1a1a" stroke-width="0.95" stroke-linejoin="round"/>
<polyline points="688.3,431.0 696.3,429.0" fill="none" stroke="#1a1a1a" stroke-width="0.95" stroke-linejoin="round"/>
<polyline points="609.8,705.0 609.8,729.0" fill="none" stroke="#1a1a1a" stroke-width="0.95" stroke-linejoin="round"/>
<polyline points="612.0,705.0 612.0,720.0" fill="none" stroke="#1a1a1a" stroke-width="0.95" stroke-linejoin="round"/>
<polyline points="625.4,698.0 625.4,754.0" fill="none" stroke="#1a1a1a" stroke-width="0.95" stroke-linejoin="round"/>
<polyline points="665.0,676.8 665.0,773.0" fill="none" stroke="#1a1a1a" stroke-width="0.95" stroke-linejoin="round"/>
<polyline points="678.4,670.4 678.4,767.4" fill="none" stroke="#1a1a1a" stroke-width="0.95" stroke-linejoin="round"/>
<polyline points="689.0,665.5 689.0,790.0" fill="none" stroke="#1a1a1a" stroke-width="0.95" stroke-linejoin="round"/>
<polyline points="696.1,682.5 696.1,788.6" fill="none" stroke="#1a1a1a" stroke-width="0.95" stroke-linejoin="round"/>
<polyline points="701.8,722.0 701.8,788.6" fill="none" stroke="#1a1a1a" stroke-width="0.95" stroke-linejoin="round"/>
<polyline points="707.4,657.0 707.4,788.6" fill="none" stroke="#1a1a1a" stroke-width="0.95" stroke-linejoin="round"/>
<polygon points="701.8,688.0 705.0,686.5 707.4,688.0 707.4,710.8 701.8,710.8" fill="none" stroke="#1a1a1a" stroke-width="0.95" stroke-linejoin="round"/>
<polygon points="697.5,724.0 701.0,722.0 704.0,724.0 704.0,786.0 697.5,786.0" fill="none" stroke="#1a1a1a" stroke-width="0.95" stroke-linejoin="round"/>
<path d="M697.5,665.5 Q689,666 689,672 L689,677 L690.5,681 L703.2,675.4" fill="none" stroke="#1a1a1a" stroke-width="0.95"/>
<path d="M697.5,710.8 Q689,712 689,718 Q690,735 697.5,742" fill="none" stroke="#1a1a1a" stroke-width="0.95"/>
<path d="M625.4,723.5 Q640,752 663.6,753.2" fill="none" stroke="#1a1a1a" stroke-width="0.95"/>
<polyline points="625.4,737.6 665.0,763.1" fill="none" stroke="#1a1a1a" stroke-width="0.95" stroke-linejoin="round"/>
<polyline points="625.4,750.4 665.0,774.4" fill="none" stroke="#1a1a1a" stroke-width="0.95" stroke-linejoin="round"/>
<polygon points="609.8,717.0 616.0,715.0 622.5,718.0 622.5,725.0 616.0,727.0 609.8,725.0" fill="#fff" stroke="#1a1a1a" stroke-width="0.95" stroke-linejoin="round"/>
<ellipse cx="616" cy="719.5" rx="2.6" ry="1.7" transform="rotate(15 616 719.5)" fill="none" stroke="#1a1a1a" stroke-width="0.95"/>
<polygon points="602.0,729.1 612.6,724.9 625.4,732.0 625.4,753.2 616.9,758.9 602.0,751.8" fill="#fff" stroke="#1a1a1a" stroke-width="0.95" stroke-linejoin="round"/>
<polyline points="602.0,729.1 614.8,737.0 625.4,732.0" fill="none" stroke="#1a1a1a" stroke-width="0.95" stroke-linejoin="round"/>
<polyline points="614.8,737.0 614.8,758.9" fill="none" stroke="#1a1a1a" stroke-width="0.95" stroke-linejoin="round"/>
<path d="M606,743 L606,749 L611,752 L611,746 Q612,741 607,740" fill="none" stroke="#1a1a1a" stroke-width="0.95"/>
<polygon points="664.0,755.0 671.0,751.0 680.0,755.0 673.0,760.0" fill="#fff" stroke="#1a1a1a" stroke-width="0.95" stroke-linejoin="round"/>
<ellipse cx="672" cy="755" rx="2.5" ry="1.6" transform="rotate(20 672 755)" fill="none" stroke="#1a1a1a" stroke-width="0.95"/>
<polyline points="664.0,755.0 664.0,760.0 673.0,765.0 680.0,760.0 680.0,755.0" fill="none" stroke="#1a1a1a" stroke-width="0.95" stroke-linejoin="round"/>
<polyline points="673.0,760.0 673.0,765.0" fill="none" stroke="#1a1a1a" stroke-width="0.95" stroke-linejoin="round"/>
<polygon points="660.0,775.8 672.1,768.8 678.4,772.3 678.4,790.0 672.1,795.7 660.0,787.2" fill="#fff" stroke="#1a1a1a" stroke-width="0.95" stroke-linejoin="round"/>
<polyline points="660.0,775.8 666.4,779.4 678.4,772.3" fill="none" stroke="#1a1a1a" stroke-width="0.95" stroke-linejoin="round"/>
<polyline points="666.4,779.4 666.4,791.0" fill="none" stroke="#1a1a1a" stroke-width="0.95" stroke-linejoin="round"/>
<path d="M663,783 L663,789 L668,792 L668,786 Q669,781 664,781" fill="none" stroke="#1a1a1a" stroke-width="0.95"/>
<polygon points="674.9,781.5 687.6,761.7 689.0,766.0 677.0,784.0" fill="#fff" stroke="#1a1a1a" stroke-width="0.95" stroke-linejoin="round"/>
<polygon points="674.9,795.7 682.0,792.8 689.0,790.0 697.0,787.0 711.7,792.8 711.7,802.7 700.4,808.0 700.4,805.0 689.0,810.0 689.0,812.0 683.4,815.0 674.9,811.0" fill="#fff" stroke="#1a1a1a" stroke-width="0.95" stroke-linejoin="round"/>
<polyline points="674.9,795.7 683.4,800.0 697.0,794.0 711.7,792.8" fill="none" stroke="#1a1a1a" stroke-width="0.95" stroke-linejoin="round"/>
<polyline points="683.4,800.0 683.4,815.0" fill="none" stroke="#1a1a1a" stroke-width="0.95" stroke-linejoin="round"/>
<polyline points="700.4,797.0 700.4,805.0" fill="none" stroke="#1a1a1a" stroke-width="0.95" stroke-linejoin="round"/>
<polyline points="679.0,803.0 679.0,818.0" fill="none" stroke="#1a1a1a" stroke-width="0.95" stroke-linejoin="round"/>
<polyline points="681.0,804.0 681.0,819.0" fill="none" stroke="#1a1a1a" stroke-width="0.95" stroke-linejoin="round"/>
<circle cx="716.2" cy="385.6" r="2.6" fill="none" stroke="#1a1a1a" stroke-width="2.2"/>
<circle cx="716.2" cy="385.6" r="0.8" fill="none" stroke="#1a1a1a" stroke-width="0.6"/>
<circle cx="727.5" cy="421" r="3.4" fill="none" stroke="#1a1a1a" stroke-width="2.2"/>
<circle cx="727.5" cy="421" r="1.4" fill="none" stroke="#1a1a1a" stroke-width="0.7"/>
<polygon points="434.8,662.0 756.4,504.4 756.4,632.1 443.0,788.0 434.8,785.0" fill="#fff" stroke="#1a1a1a" stroke-width="0.95" stroke-linejoin="round"/>
<polyline points="441.0,666.0 441.0,788.0" fill="none" stroke="#1a1a1a" stroke-width="0.95" stroke-linejoin="round"/>
<polyline points="434.8,662.0 441.0,666.0 756.4,511.5" fill="none" stroke="#1a1a1a" stroke-width="0.95" stroke-linejoin="round"/>
<circle cx="459" cy="639.5" r="3.2" fill="none" stroke="#1a1a1a" stroke-width="0.95"/>
<circle cx="459" cy="639.5" r="1.5" fill="none" stroke="#1a1a1a" stroke-width="0.95"/>
<path d="M452,650 L451.5,646 L454,643 L453.5,640 Q454,634 459,634.5 L463,633.5 L466,632 L470,632.5 L486,624" fill="none" stroke="#1a1a1a" stroke-width="0.95"/>
<polygon points="487.5,581.4 498.3,576.2 498.3,568.7 506.0,548.6 780.0,421.6 790.0,421.4 797.9,424.6 801.3,423.5 808.9,428.5 808.9,543.7 494.5,700.5 487.5,697.6" fill="#fff" stroke="#1a1a1a" stroke-width="0.95" stroke-linejoin="round"/>
<polyline points="494.5,585.7 494.5,700.5" fill="none" stroke="#1a1a1a" stroke-width="0.95" stroke-linejoin="round"/>
<polyline points="487.5,581.4 494.5,585.7 505.4,581.0 498.3,576.2" fill="none" stroke="#1a1a1a" stroke-width="0.95" stroke-linejoin="round"/>
<polyline points="505.4,581.0 505.4,572.9 498.3,568.7" fill="none" stroke="#1a1a1a" stroke-width="0.95" stroke-linejoin="round"/>
<polyline points="505.4,572.9 797.9,429.6 797.9,424.6" fill="none" stroke="#1a1a1a" stroke-width="0.95" stroke-linejoin="round"/>
<polyline points="797.9,429.6 801.3,428.1 808.9,428.5" fill="none" stroke="#1a1a1a" stroke-width="0.95" stroke-linejoin="round"/>
<polyline points="506.0,559.6 790.0,420.4" fill="none" stroke="#1a1a1a" stroke-width="0.95" stroke-linejoin="round"/>
<polyline points="506.0,550.1 590.6,511.2" fill="none" stroke="#1a1a1a" stroke-width="0.95" stroke-linejoin="round"/>
<polygon points="590.6,518.2 590.6,505.7 593.1,503.7 601.2,500.0 598.7,502.0 598.7,514.2" fill="#fff" stroke="#1a1a1a" stroke-width="0.95" stroke-linejoin="round"/>
<polyline points="590.6,505.7 598.7,502.0" fill="none" stroke="#1a1a1a" stroke-width="0.95" stroke-linejoin="round"/>
<polygon points="617.9,504.8 617.9,493.2 620.4,491.2 626.8,488.2 624.3,490.2 624.3,501.6" fill="#fff" stroke="#1a1a1a" stroke-width="0.95" stroke-linejoin="round"/>
<polyline points="617.9,493.2 624.3,490.2" fill="none" stroke="#1a1a1a" stroke-width="0.95" stroke-linejoin="round"/>
<polygon points="653.6,487.3 653.6,476.7 656.1,474.7 664.5,470.9 662.0,472.9 662.0,483.2" fill="#fff" stroke="#1a1a1a" stroke-width="0.95" stroke-linejoin="round"/>
<polyline points="653.6,476.7 662.0,472.9" fill="none" stroke="#1a1a1a" stroke-width="0.95" stroke-linejoin="round"/>
<polygon points="680.8,474.0 680.8,464.2 683.3,462.2 688.3,459.9 685.8,461.9 685.8,471.5" fill="#fff" stroke="#1a1a1a" stroke-width="0.95" stroke-linejoin="round"/>
<polyline points="680.8,464.2 685.8,461.9" fill="none" stroke="#1a1a1a" stroke-width="0.95" stroke-linejoin="round"/>
<polyline points="598.7,507.5 617.9,498.7" fill="none" stroke="#1a1a1a" stroke-width="0.95" stroke-linejoin="round"/>
<polyline points="624.3,495.7 653.6,482.2" fill="none" stroke="#1a1a1a" stroke-width="0.95" stroke-linejoin="round"/>
<polyline points="662.0,478.4 680.8,469.7" fill="none" stroke="#1a1a1a" stroke-width="0.95" stroke-linejoin="round"/>
<polyline points="685.8,467.4 780.0,424.1" fill="none" stroke="#1a1a1a" stroke-width="0.95" stroke-linejoin="round"/>
<circle cx="511.8" cy="550.4" r="3.2" fill="none" stroke="#1a1a1a" stroke-width="0.95"/>
<circle cx="511.8" cy="550.4" r="1.5" fill="none" stroke="#1a1a1a" stroke-width="0.95"/>
<path d="M505,562.5 L504.5,558 L507,555 L506.5,551 Q507,545 512,545.5 L516,544.5 L519,543 L523,543.5 L530,540" fill="none" stroke="#1a1a1a" stroke-width="0.95"/>
<ellipse cx="768" cy="421" rx="4" ry="3" transform="rotate(-30 768 421)" fill="none" stroke="#1a1a1a" stroke-width="0.95"/>
<circle cx="768" cy="421" r="1.5" fill="none" stroke="#1a1a1a" stroke-width="0.95"/>
<path d="M760,430 L762,424 Q765,417 772,417 L778,421" fill="none" stroke="#1a1a1a" stroke-width="0.95"/>
<polygon points="523.0,574.0 528.0,572.0 531.0,574.0 531.0,583.0 526.0,585.0 523.0,583.0" fill="#fff" stroke="#1a1a1a" stroke-width="0.95" stroke-linejoin="round"/>
<polygon points="531.0,574.0 540.0,570.0 545.0,577.0 545.0,580.0 537.0,584.0 531.0,583.0" fill="#fff" stroke="#1a1a1a" stroke-width="0.95" stroke-linejoin="round"/>
<polyline points="531.0,577.0 540.0,573.0 545.0,577.0" fill="none" stroke="#1a1a1a" stroke-width="0.95" stroke-linejoin="round"/>
<polygon points="792.0,442.0 798.0,438.0 801.0,440.0 801.0,446.0 806.0,448.0 806.0,451.0 798.0,455.0 792.0,452.0" fill="#fff" stroke="#1a1a1a" stroke-width="0.95" stroke-linejoin="round"/>
<polyline points="798.0,438.0 798.0,447.0 806.0,448.0" fill="none" stroke="#1a1a1a" stroke-width="0.95" stroke-linejoin="round"/>
<polyline points="792.0,446.0 798.0,447.0" fill="none" stroke="#1a1a1a" stroke-width="0.95" stroke-linejoin="round"/>
<path d="M460.7,576 L491,563.5 Q497.5,561.5 498,567 L497.8,572 Q497.5,575 494,576.5 L478,585 L465,589 Z" fill="#fff" stroke="#1a1a1a" stroke-width="0.95"/>
<polyline points="457.3,578.5 460.7,576.5 460.7,588.5 457.3,589.4 457.3,578.5" fill="none" stroke="#1a1a1a" stroke-width="0.95" stroke-linejoin="round"/>
<circle cx="471.6" cy="579.8" r="8.6" fill="#fff" stroke="#1a1a1a" stroke-width="0.95"/>
<circle cx="471.6" cy="579.8" r="6.0" fill="none" stroke="#1a1a1a" stroke-width="0.95"/>
<circle cx="471.6" cy="579.8" r="3.8" fill="none" stroke="#1a1a1a" stroke-width="0.95"/>
<circle cx="445.6" cy="561.4" r="3.6" fill="none" stroke="#1a1a1a" stroke-width="2.2"/>
<circle cx="445.6" cy="561.4" r="1.6" fill="none" stroke="#1a1a1a" stroke-width="0.7"/>
<polygon points="300.4,954.2 304.7,952.3 616.8,797.8 634.5,804.0 638.0,813.1 638.0,815.1 333.2,965.9 324.0,970.4 306.6,968.3 300.4,964.5" fill="#fff" stroke="#1a1a1a" stroke-width="0.95" stroke-linejoin="round"/>
<polyline points="304.7,952.3 318.6,961.7 318.6,966.4 324.0,970.4" fill="none" stroke="#1a1a1a" stroke-width="0.95" stroke-linejoin="round"/>
<polyline points="300.4,954.2 300.4,964.5" fill="none" stroke="#1a1a1a" stroke-width="0.95" stroke-linejoin="round"/>
<polyline points="302.1,956.0 318.1,966.2" fill="none" stroke="#1a1a1a" stroke-width="0.95" stroke-linejoin="round"/>
<polyline points="306.6,968.3 313.9,964.5" fill="none" stroke="#1a1a1a" stroke-width="0.95" stroke-linejoin="round"/>
<polyline points="301.1,963.6 307.5,960.3" fill="none" stroke="#1a1a1a" stroke-width="0.95" stroke-linejoin="round"/>
<polyline points="333.2,961.2 333.2,965.9" fill="none" stroke="#1a1a1a" stroke-width="0.95" stroke-linejoin="round"/>
<polyline points="333.2,961.2 631.0,813.8" fill="none" stroke="#1a1a1a" stroke-width="0.95" stroke-linejoin="round"/>
<ellipse cx="328" cy="957.2" rx="3.3" ry="2.0" transform="rotate(-20 328 957.2)" fill="none" stroke="#1a1a1a" stroke-width="0.95"/>
<polyline points="325.5,958.0 330.5,956.2" fill="none" stroke="#1a1a1a" stroke-width="0.95" stroke-linejoin="round"/>
<polygon points="618.0,795.4 634.5,804.0 634.5,808.4 618.0,800.0" fill="#fff" stroke="#1a1a1a" stroke-width="0.95" stroke-linejoin="round"/>
<ellipse cx="610" cy="810" rx="3" ry="2" transform="rotate(-25 610 810)" fill="none" stroke="#1a1a1a" stroke-width="0.95"/>
<polygon points="297.9,443.5 302.3,440.8 305.9,442.7 391.8,497.0 393.0,486.2 409.6,486.2 412.6,498.5 412.6,518.1 399.4,520.0 399.4,949.0 409.6,949.0 409.6,956.4 397.9,956.4 391.8,952.7 296.5,891.0 296.5,882.5 301.0,879.0 301.0,462.0 297.9,458.0 297.9,447.5" fill="#fff" stroke="#1a1a1a" stroke-width="0.95" stroke-linejoin="round"/>
<polyline points="297.9,444.5 391.7,503.5" fill="none" stroke="#1a1a1a" stroke-width="0.95" stroke-linejoin="round"/>
<polyline points="303.2,450.5 391.7,506.5" fill="none" stroke="#1a1a1a" stroke-width="0.95" stroke-linejoin="round"/>
<polyline points="297.9,444.5 303.2,448.0 303.2,879.0" fill="none" stroke="#1a1a1a" stroke-width="0.95" stroke-linejoin="round"/>
<polyline points="297.9,447.5 297.9,458.0 301.0,462.0 301.0,880.0" fill="none" stroke="#1a1a1a" stroke-width="0.95" stroke-linejoin="round"/>
<polyline points="391.8,505.2 391.8,952.7" fill="none" stroke="#1a1a1a" stroke-width="0.95" stroke-linejoin="round"/>
<polyline points="394.2,512.0 394.2,945.0" fill="none" stroke="#1a1a1a" stroke-width="0.95" stroke-linejoin="round"/>
<polygon points="395.0,518.0 398.5,520.0 398.5,598.0 395.0,596.0" fill="none" stroke="#1a1a1a" stroke-width="0.95" stroke-linejoin="round"/>
<polyline points="392.0,602.0 399.0,606.0" fill="none" stroke="#1a1a1a" stroke-width="0.95" stroke-linejoin="round"/>
<polygon points="395.0,640.0 398.5,642.0 398.5,698.0 395.0,696.0" fill="none" stroke="#1a1a1a" stroke-width="0.95" stroke-linejoin="round"/>
<polyline points="392.0,702.0 399.0,706.0" fill="none" stroke="#1a1a1a" stroke-width="0.95" stroke-linejoin="round"/>
<polygon points="395.0,718.0 398.5,720.0 398.5,742.0 395.0,740.0" fill="none" stroke="#1a1a1a" stroke-width="0.95" stroke-linejoin="round"/>
<polyline points="392.0,746.0 399.0,750.0" fill="none" stroke="#1a1a1a" stroke-width="0.95" stroke-linejoin="round"/>
<polygon points="395.0,765.0 398.5,767.0 398.5,820.0 395.0,818.0" fill="none" stroke="#1a1a1a" stroke-width="0.95" stroke-linejoin="round"/>
<polyline points="392.0,824.0 399.0,828.0" fill="none" stroke="#1a1a1a" stroke-width="0.95" stroke-linejoin="round"/>
<polygon points="395.0,840.0 398.5,842.0 398.5,866.0 395.0,864.0" fill="none" stroke="#1a1a1a" stroke-width="0.95" stroke-linejoin="round"/>
<polyline points="392.0,870.0 399.0,874.0" fill="none" stroke="#1a1a1a" stroke-width="0.95" stroke-linejoin="round"/>
<polygon points="395.0,874.0 398.5,876.0 398.5,930.0 395.0,928.0" fill="none" stroke="#1a1a1a" stroke-width="0.95" stroke-linejoin="round"/>
<polyline points="392.0,934.0 399.0,938.0" fill="none" stroke="#1a1a1a" stroke-width="0.95" stroke-linejoin="round"/>
<polygon points="371.9,485.1 380.5,481.1 393.7,489.1 393.7,501.0 384.4,497.0 371.9,489.5" fill="#fff" stroke="#1a1a1a" stroke-width="0.95" stroke-linejoin="round"/>
<polyline points="371.9,485.1 384.4,493.7 393.7,489.1" fill="none" stroke="#1a1a1a" stroke-width="0.95" stroke-linejoin="round"/>
<polyline points="384.4,493.7 384.4,497.0" fill="none" stroke="#1a1a1a" stroke-width="0.95" stroke-linejoin="round"/>
<ellipse cx="383.1" cy="487.1" rx="3.3" ry="1.8" transform="rotate(-10 383.1 487.1)" fill="none" stroke="#1a1a1a" stroke-width="0.95"/>
<polygon points="393.7,489.1 407.6,485.4 409.5,486.4 409.5,497.0 396.3,502.3 393.7,501.0" fill="#fff" stroke="#1a1a1a" stroke-width="0.95" stroke-linejoin="round"/>
<polyline points="393.7,489.1 396.3,491.0 409.5,486.4" fill="none" stroke="#1a1a1a" stroke-width="0.95" stroke-linejoin="round"/>
<polyline points="396.3,491.0 396.3,502.3" fill="none" stroke="#1a1a1a" stroke-width="0.95" stroke-linejoin="round"/>
<polygon points="391.0,505.6 412.2,498.3 413.5,499.6 413.5,505.6 409.5,508.9 409.5,516.8 399.0,520.8 391.0,509.5" fill="#fff" stroke="#1a1a1a" stroke-width="0.95" stroke-linejoin="round"/>
<polyline points="391.0,505.6 399.0,512.8 409.5,508.9" fill="none" stroke="#1a1a1a" stroke-width="0.95" stroke-linejoin="round"/>
<polyline points="399.0,512.8 399.0,520.8" fill="none" stroke="#1a1a1a" stroke-width="0.95" stroke-linejoin="round"/>
<polyline points="403.0,503.6 409.5,508.9" fill="none" stroke="#1a1a1a" stroke-width="0.95" stroke-linejoin="round"/>
<ellipse cx="399.6" cy="509.2" rx="3.2" ry="1.7" transform="rotate(-8 399.6 509.2)" fill="none" stroke="#1a1a1a" stroke-width="0.95"/>
<path d="M323.7,868 L323.7,497 Q324,488.7 331,488.7 Q338,488.7 342,494 Q360,512 363.6,520 Q365,527 364.8,540 L364.8,909.6 Q332,895 323.7,868 Z" fill="#fff" stroke="#1a1a1a" stroke-width="0.95"/>
<polyline points="326.8,500.0 326.8,866.0" fill="none" stroke="#1a1a1a" stroke-width="0.95" stroke-linejoin="round"/>
<path d="M337.8,500 Q338,496 340.3,494.8" fill="none" stroke="#1a1a1a" stroke-width="0.95"/>
<polyline points="337.8,500.0 337.8,860.0" fill="none" stroke="#1a1a1a" stroke-width="0.95" stroke-linejoin="round"/>
<polyline points="340.3,496.0 340.3,856.0" fill="none" stroke="#1a1a1a" stroke-width="0.95" stroke-linejoin="round"/>
<path d="M337.8,860 Q340,878 364.8,897" fill="none" stroke="#1a1a1a" stroke-width="0.95"/>
<path d="M326.8,866 Q335,893 364.8,904" fill="none" stroke="#1a1a1a" stroke-width="0.95"/>
<polyline points="326.8,503.0 337.8,505.0" fill="none" stroke="#1a1a1a" stroke-width="0.95" stroke-linejoin="round"/>
<polyline points="330.0,880.0 343.0,870.0" fill="none" stroke="#1a1a1a" stroke-width="0.95" stroke-linejoin="round"/>
<polyline points="350.0,890.0 357.0,885.0" fill="none" stroke="#1a1a1a" stroke-width="0.95" stroke-linejoin="round"/>
<polyline points="303.5,879.0 303.5,887.0" fill="none" stroke="#1a1a1a" stroke-width="0.95" stroke-linejoin="round"/>
<polyline points="397.9,949.0 397.9,956.4" fill="none" stroke="#1a1a1a" stroke-width="0.95" stroke-linejoin="round"/>
<polyline points="409.6,942.0 412.6,940.0 412.6,950.0 409.6,953.0" fill="none" stroke="#1a1a1a" stroke-width="0.95" stroke-linejoin="round"/>
<polyline points="399.4,942.0 409.6,942.0" fill="none" stroke="#1a1a1a" stroke-width="0.95" stroke-linejoin="round"/>
<polygon points="361.4,994.5 368.4,989.8 368.4,983.9 666.3,837.9 675.8,837.9 698.2,854.4 698.2,862.6 383.8,1020.5 379.0,1011.0 379.0,1006.3" fill="#fff" stroke="#1a1a1a" stroke-width="0.95" stroke-linejoin="round"/>
<polyline points="368.4,989.8 666.3,843.8" fill="none" stroke="#1a1a1a" stroke-width="0.95" stroke-linejoin="round"/>
<polyline points="379.0,1006.3 698.2,849.9" fill="none" stroke="#1a1a1a" stroke-width="0.95" stroke-linejoin="round"/>
<polyline points="379.0,1011.0 698.2,854.6" fill="none" stroke="#1a1a1a" stroke-width="0.95" stroke-linejoin="round"/>
<polyline points="386.0,1012.0 698.0,859.1" fill="none" stroke="#888" stroke-width="0.5" stroke-linejoin="round"/>
<polyline points="666.3,837.9 666.3,843.8" fill="none" stroke="#1a1a1a" stroke-width="0.95" stroke-linejoin="round"/>
<polygon points="680.5,835.5 694.6,843.0 694.6,848.5 680.5,841.0" fill="#fff" stroke="#1a1a1a" stroke-width="0.95" stroke-linejoin="round"/>
<ellipse cx="672" cy="849" rx="3" ry="2.2" transform="rotate(-25 672 849)" fill="none" stroke="#1a1a1a" stroke-width="0.95"/>
<ellipse cx="382.6" cy="994.5" rx="3.3" ry="2.3" transform="rotate(-25 382.6 994.5)" fill="none" stroke="#1a1a1a" stroke-width="0.95"/>
<polyline points="666.0,857.0 690.0,848.0" fill="none" stroke="#1a1a1a" stroke-width="0.95" stroke-linejoin="round"/>
<polygon points="325.7,992.5 326.8,990.0 329.2,990.0 330.3,992.5 330.3,1006.0 325.7,1006.0" fill="#fff" stroke="#1a1a1a" stroke-width="0.95" stroke-linejoin="round"/>
<polygon points="323.5,1006.0 328.0,1004.0 332.5,1006.0 332.5,1010.0 328.0,1012.5 323.5,1010.0" fill="#fff" stroke="#1a1a1a" stroke-width="0.95" stroke-linejoin="round"/>
<polyline points="323.5,1006.0 328.0,1008.0 332.5,1006.0" fill="none" stroke="#1a1a1a" stroke-width="0.95" stroke-linejoin="round"/>
<polyline points="328.0,1008.0 328.0,1012.5" fill="none" stroke="#1a1a1a" stroke-width="0.95" stroke-linejoin="round"/>
<polyline points="327.0,993.0 327.0,1005.0" fill="none" stroke="#888" stroke-width="0.5" stroke-linejoin="round"/>
<polygon points="381.2,1030.0 382.3,1027.5 384.7,1027.5 385.8,1030.0 385.8,1043.5 381.2,1043.5" fill="#fff" stroke="#1a1a1a" stroke-width="0.95" stroke-linejoin="round"/>
<polygon points="379.0,1043.5 383.5,1041.5 388.0,1043.5 388.0,1047.5 383.5,1050.0 379.0,1047.5" fill="#fff" stroke="#1a1a1a" stroke-width="0.95" stroke-linejoin="round"/>
<polyline points="379.0,1043.5 383.5,1045.5 388.0,1043.5" fill="none" stroke="#1a1a1a" stroke-width="0.95" stroke-linejoin="round"/>
<polyline points="383.5,1045.5 383.5,1050.0" fill="none" stroke="#1a1a1a" stroke-width="0.95" stroke-linejoin="round"/>
<polyline points="382.5,1030.5 382.5,1042.5" fill="none" stroke="#888" stroke-width="0.5" stroke-linejoin="round"/>
<polygon points="668.7,886.5 669.8,884.0 672.2,884.0 673.3,886.5 673.3,900.0 668.7,900.0" fill="#fff" stroke="#1a1a1a" stroke-width="0.95" stroke-linejoin="round"/>
<polygon points="666.5,900.0 671.0,898.0 675.5,900.0 675.5,904.0 671.0,906.5 666.5,904.0" fill="#fff" stroke="#1a1a1a" stroke-width="0.95" stroke-linejoin="round"/>
<polyline points="666.5,900.0 671.0,902.0 675.5,900.0" fill="none" stroke="#1a1a1a" stroke-width="0.95" stroke-linejoin="round"/>
<polyline points="671.0,902.0 671.0,906.5" fill="none" stroke="#1a1a1a" stroke-width="0.95" stroke-linejoin="round"/>
<polyline points="670.0,887.0 670.0,899.0" fill="none" stroke="#888" stroke-width="0.5" stroke-linejoin="round"/>
<polygon points="613.3,848.0 615.5,846.0 618.0,848.0 618.0,862.0 613.3,862.0" fill="#fff" stroke="#1a1a1a" stroke-width="0.95" stroke-linejoin="round"/>
<circle cx="128.7" cy="319.2" r="24.5" fill="none" stroke="#484848" stroke-width="1"/><g transform="translate(128.7,319.2) scale(1.0)" fill="none" stroke="#404040" stroke-width="1.0" stroke-linecap="round" stroke-linejoin="round"><path transform="translate(-5.00,-9.3)" d="M0.3,2.6 L2.6,0.2 L7.5,0.2 L9.6,2.4 L9.6,6.6 L7.4,8.9 L4.2,8.9 M7.4,8.9 L10,11.5 L10,16 L7.5,18.5 L2.6,18.5 L0.1,16"/></g><polyline points="153.2,324.3 274,352.6 323,364" fill="none" stroke="#222" stroke-width="0.9"/><circle cx="130.4" cy="402.5" r="24.5" fill="none" stroke="#484848" stroke-width="1"/><g transform="translate(130.4,402.5) scale(1.0)" fill="none" stroke="#404040" stroke-width="1.0" stroke-linecap="round" stroke-linejoin="round"><path transform="translate(-9.60,-9.3)" d="M3.4,0 L3.4,18.6 M0.3,18.6 L6.1,18.6 M3.4,0 L0.2,2.8"/><path transform="translate(-0.40,-9.3)" d="M2.8,0.2 L7.2,0.2 L10,3.2 L10,15.6 L7.2,18.5 L2.8,18.5 L0,15.6 L0,3.2 Z"/></g><polyline points="154.7,408.9 239,429" fill="none" stroke="#222" stroke-width="0.9"/><circle cx="130.4" cy="465.6" r="24.5" fill="none" stroke="#484848" stroke-width="1"/><g transform="translate(130.4,465.6) scale(1.0)" fill="none" stroke="#404040" stroke-width="1.0" stroke-linecap="round" stroke-linejoin="round"><path transform="translate(-9.60,-9.3)" d="M3.4,0 L3.4,18.6 M0.3,18.6 L6.1,18.6 M3.4,0 L0.2,2.8"/><path transform="translate(-0.40,-9.3)" d="M0.3,2.6 L2.6,0.2 L7.5,0.2 L9.6,2.4 L9.6,6.6 L7.4,8.9 L4.2,8.9 M7.4,8.9 L10,11.5 L10,16 L7.5,18.5 L2.6,18.5 L0.1,16"/></g><polyline points="154.7,460.6 259.8,436.6" fill="none" stroke="#222" stroke-width="0.9"/><circle cx="131.9" cy="537.4" r="24.5" fill="none" stroke="#484848" stroke-width="1"/><g transform="translate(131.9,537.4) scale(1.0)" fill="none" stroke="#404040" stroke-width="1.0" stroke-linecap="round" stroke-linejoin="round"><path transform="translate(-5.00,-9.3)" d="M9.4,0.2 L1,0.2 L0.6,8.2 L2.8,6.8 L7.5,6.8 L10,9.3 L10,16 L7.5,18.5 L2.6,18.5 L0,16"/></g><polyline points="152.9,552.5 259.8,577" fill="none" stroke="#222" stroke-width="0.9"/><circle cx="128.7" cy="629.4" r="24.5" fill="none" stroke="#484848" stroke-width="1"/><g transform="translate(128.7,629.4) scale(1.0)" fill="none" stroke="#404040" stroke-width="1.0" stroke-linecap="round" stroke-linejoin="round"><path transform="translate(-3.10,-9.3)" d="M3.4,0 L3.4,18.6 M0.3,18.6 L6.1,18.6 M3.4,0 L0.2,2.8"/></g><polyline points="153.4,624.5 346,590" fill="none" stroke="#222" stroke-width="0.9"/><circle cx="129.3" cy="692.7" r="24.5" fill="none" stroke="#484848" stroke-width="1"/><g transform="translate(129.3,692.7) scale(1.0)" fill="none" stroke="#404040" stroke-width="1.0" stroke-linecap="round" stroke-linejoin="round"><path transform="translate(-7.70,-9.3)" d="M3.4,0 L3.4,18.6 M0.3,18.6 L6.1,18.6 M3.4,0 L0.2,2.8"/><path transform="translate(1.50,-9.3)" d="M3.4,0 L3.4,18.6 M0.3,18.6 L6.1,18.6 M3.4,0 L0.2,2.8"/></g><polyline points="153.8,692.5 289.2,656.2" fill="none" stroke="#222" stroke-width="0.9"/><circle cx="134.2" cy="753.4" r="24.5" fill="none" stroke="#484848" stroke-width="1"/><g transform="translate(134.2,753.4) scale(1.0)" fill="none" stroke="#404040" stroke-width="1.0" stroke-linecap="round" stroke-linejoin="round"><path transform="translate(-9.60,-9.3)" d="M3.4,0 L3.4,18.6 M0.3,18.6 L6.1,18.6 M3.4,0 L0.2,2.8"/><path transform="translate(-0.40,-9.3)" d="M0.4,2.4 L2.5,0.2 L7.7,0.2 L10,2.5 L10,7.3 L8.1,9.6 L1.9,11.9 L0.4,13.8 L0.4,18.4 L10,18.4"/></g><polyline points="154.9,737.7 296,659" fill="none" stroke="#222" stroke-width="0.9"/><circle cx="134.2" cy="817.7" r="24.5" fill="none" stroke="#484848" stroke-width="1"/><g transform="translate(134.2,817.7) scale(1.0)" fill="none" stroke="#404040" stroke-width="1.0" stroke-linecap="round" stroke-linejoin="round"><path transform="translate(-9.60,-9.3)" d="M3.4,0 L3.4,18.6 M0.3,18.6 L6.1,18.6 M3.4,0 L0.2,2.8"/><path transform="translate(-0.40,-9.3)" d="M9.2,1.9 L7.9,0.2 L3,0.2 L0.2,3.2 L0.2,15.8 L2.7,18.5 L7.5,18.5 L10,15.8 L10,10.2 L7.5,7.6 L2.5,7.6 L0.2,10"/></g><polyline points="157.9,809.4 445,563" fill="none" stroke="#222" stroke-width="0.9"/><circle cx="132.6" cy="894.3" r="24.5" fill="none" stroke="#484848" stroke-width="1"/><g transform="translate(132.6,894.3) scale(1.0)" fill="none" stroke="#404040" stroke-width="1.0" stroke-linecap="round" stroke-linejoin="round"><path transform="translate(-5.00,-9.3)" d="M2.7,0.2 L7.3,0.2 L9.4,2.3 L9.4,6.6 L7.6,8.8 L2.4,8.8 L0.6,6.6 L0.6,2.3 Z M2.4,8.8 L7.6,8.8 L10,11.2 L10,16 L7.5,18.5 L2.5,18.5 L0,16 L0,11.2 Z"/></g><polyline points="154.9,881.1 466,580" fill="none" stroke="#222" stroke-width="0.9"/><circle cx="914.4" cy="241" r="24.5" fill="none" stroke="#484848" stroke-width="1"/><g transform="translate(914.4,241) scale(1.0)" fill="none" stroke="#404040" stroke-width="1.0" stroke-linecap="round" stroke-linejoin="round"><path transform="translate(-6.60,-9.3)" d="M3.4,0 L3.4,18.6 M0.3,18.6 L6.1,18.6 M3.4,0 L0.2,2.8"/><path transform="translate(2.60,-9.3)" d="M0,0.2 L9.9,0.2 L3.6,18.6"/></g><polyline points="892,254.3 715.5,384.2" fill="none" stroke="#222" stroke-width="0.9"/><circle cx="915.8" cy="297.9" r="24.5" fill="none" stroke="#484848" stroke-width="1"/><g transform="translate(915.8,297.9) scale(1.0)" fill="none" stroke="#404040" stroke-width="1.0" stroke-linecap="round" stroke-linejoin="round"><path transform="translate(-3.10,-9.3)" d="M3.4,0 L3.4,18.6 M0.3,18.6 L6.1,18.6 M3.4,0 L0.2,2.8"/></g><polyline points="892,307.2 689.8,409.8" fill="none" stroke="#222" stroke-width="0.9"/><circle cx="916.7" cy="411" r="24.5" fill="none" stroke="#484848" stroke-width="1"/><g transform="translate(916.7,411) scale(1.0)" fill="none" stroke="#404040" stroke-width="1.0" stroke-linecap="round" stroke-linejoin="round"><path transform="translate(-5.00,-9.3)" d="M10,9.2 L2.7,9.2 L0.4,6.9 L0.4,3.1 L2.7,0.4 L7.7,0.4 L10,3.1 L10,13 L5,18.4 L2.7,18.6"/></g><polyline points="892,415.8 805.4,444.5" fill="none" stroke="#222" stroke-width="0.9"/><circle cx="916.7" cy="470.6" r="24.5" fill="none" stroke="#484848" stroke-width="1"/><g transform="translate(916.7,470.6) scale(1.0)" fill="none" stroke="#404040" stroke-width="1.0" stroke-linecap="round" stroke-linejoin="round"><path transform="translate(-5.00,-9.3)" d="M0.4,2.4 L2.5,0.2 L7.7,0.2 L10,2.5 L10,7.3 L8.1,9.6 L1.9,11.9 L0.4,13.8 L0.4,18.4 L10,18.4"/></g><polyline points="892,473.2 771.3,485.3" fill="none" stroke="#222" stroke-width="0.9"/><circle cx="917.5" cy="685" r="24.5" fill="none" stroke="#484848" stroke-width="1"/><g transform="translate(917.5,685) scale(1.0)" fill="none" stroke="#404040" stroke-width="1.0" stroke-linecap="round" stroke-linejoin="round"><path transform="translate(-9.60,-9.3)" d="M3.4,0 L3.4,18.6 M0.3,18.6 L6.1,18.6 M3.4,0 L0.2,2.8"/><path transform="translate(-0.40,-9.3)" d="M9.4,0.2 L1,0.2 L0.6,8.2 L2.8,6.8 L7.5,6.8 L10,9.3 L10,16 L7.5,18.5 L2.6,18.5 L0,16"/></g><polyline points="893,692.3 673.2,757.2" fill="none" stroke="#222" stroke-width="0.9"/><circle cx="915" cy="767.5" r="24.5" fill="none" stroke="#484848" stroke-width="1"/><g transform="translate(915,767.5) scale(1.0)" fill="none" stroke="#404040" stroke-width="1.0" stroke-linecap="round" stroke-linejoin="round"><path transform="translate(-5.00,-9.3)" d="M7.8,0 L0,11.6 L9.8,11.6 M7.8,0 L7.8,18.6"/></g><polyline points="892,779.2 694.3,849.2 668.7,856.8" fill="none" stroke="#222" stroke-width="0.9"/><circle cx="918" cy="863.2" r="24.5" fill="none" stroke="#484848" stroke-width="1"/><g transform="translate(918,863.2) scale(1.0)" fill="none" stroke="#404040" stroke-width="1.0" stroke-linecap="round" stroke-linejoin="round"><path transform="translate(-9.60,-9.3)" d="M3.4,0 L3.4,18.6 M0.3,18.6 L6.1,18.6 M3.4,0 L0.2,2.8"/><path transform="translate(-0.40,-9.3)" d="M7.8,0 L0,11.6 L9.8,11.6 M7.8,0 L7.8,18.6"/></g><polyline points="893.6,866.8 673.2,897.5" fill="none" stroke="#222" stroke-width="0.9"/><polyline points="650,241 510,266" fill="none" stroke="#222" stroke-width="0.9"/>
<rect x="0.8" y="0.8" width="1058.4" height="1497.4" rx="5" ry="5" fill="none" stroke="#000" stroke-width="1.6"/>
<line x1="4" y1="1498.3" x2="1056" y2="1498.3" stroke="#000" stroke-width="2"/>
</svg>
</body></html>
